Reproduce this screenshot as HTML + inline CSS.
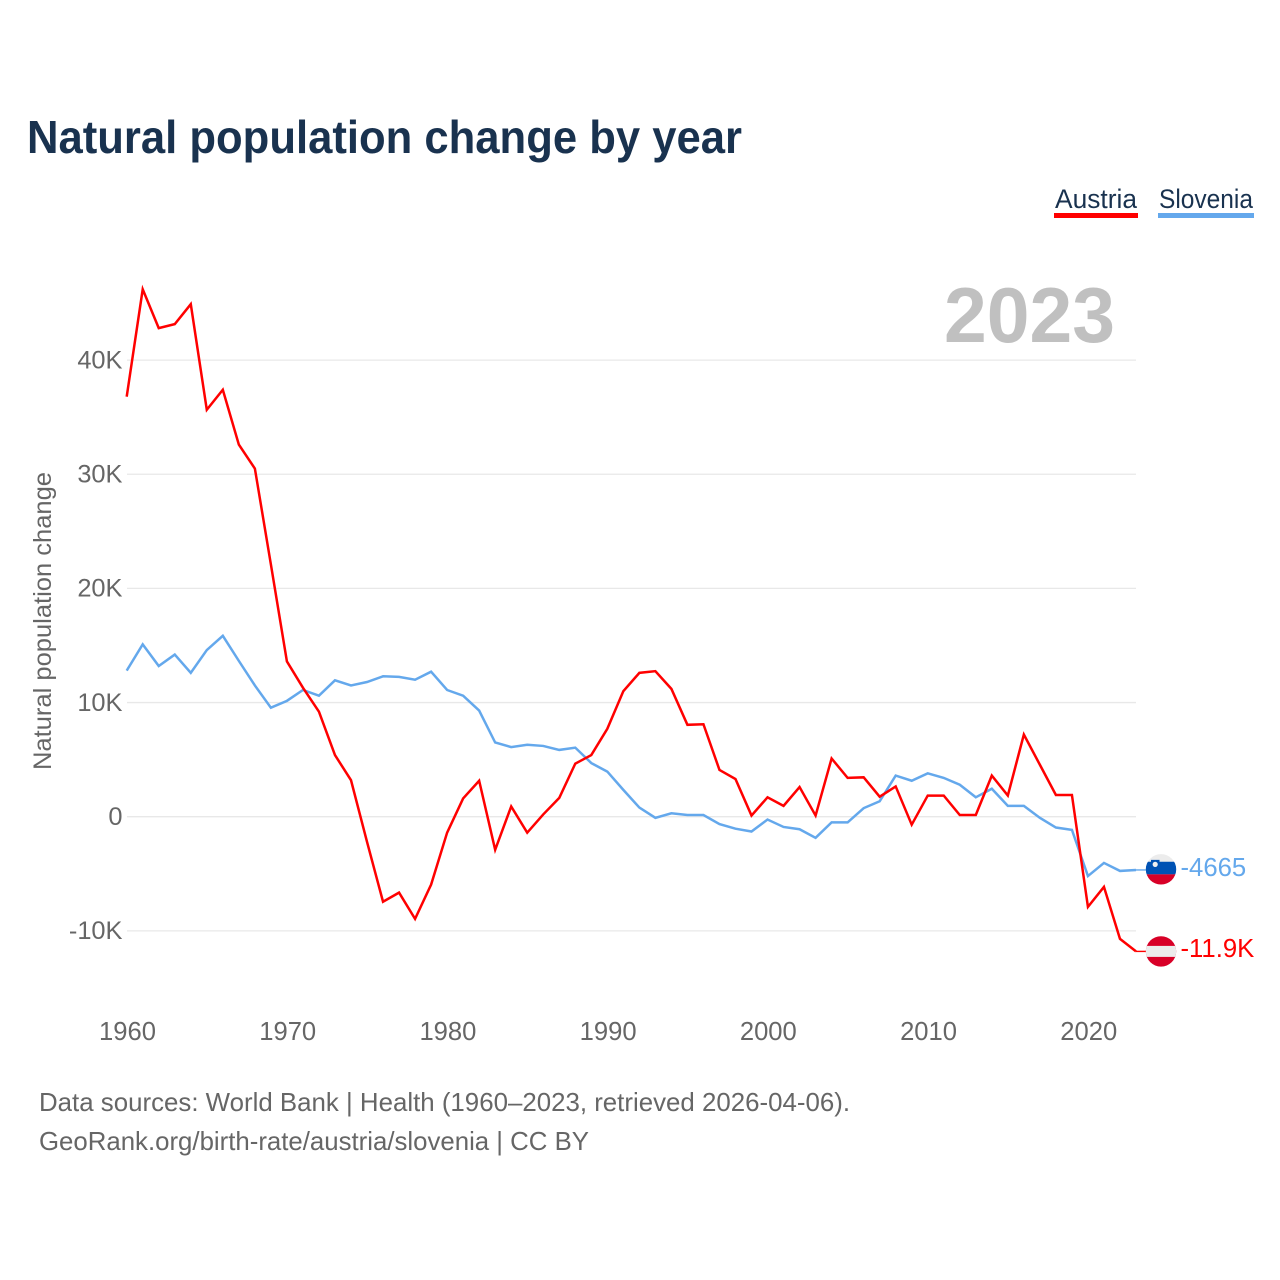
<!DOCTYPE html>
<html lang="en">
<head>
<meta charset="utf-8">
<title>Natural population change by year</title>
<style>
  html, body { margin: 0; padding: 0; background: #ffffff; }
  #chart { display: block; width: 1280px; height: 1280px; }
  text { font-family: "Liberation Sans", sans-serif; }
</style>
</head>
<body>
<svg id="chart" xmlns="http://www.w3.org/2000/svg" width="1280" height="1280" viewBox="0 0 1280 1280">
  <rect x="0" y="0" width="1280" height="1280" fill="#ffffff"/>
  <text x="27" y="153" font-size="46" font-weight="700" fill="#19324f" textLength="715" lengthAdjust="spacingAndGlyphs">Natural population change by year</text>

  <g>
    <g>
      <text x="1055" y="208" font-size="27" fill="#19324f" textLength="82" lengthAdjust="spacingAndGlyphs">Austria</text>
      <rect x="1054" y="213" width="84" height="5" fill="#ff0000"/>
    </g>
    <g>
      <text x="1159" y="208" font-size="27" fill="#19324f" textLength="94" lengthAdjust="spacingAndGlyphs">Slovenia</text>
      <rect x="1158" y="213" width="96" height="5" fill="#64a8ec"/>
    </g>
  </g>

  <text transform="translate(51,621) rotate(-90)" text-anchor="middle" font-size="25" fill="#666666" textLength="298" lengthAdjust="spacingAndGlyphs">Natural population change</text>

  <g id="grid"></g>
  <g id="y-ticks"></g>
  <g id="x-ticks"></g>

  <text x="944" y="342" font-size="78" font-weight="700" fill="#c0c0c0" textLength="171" lengthAdjust="spacingAndGlyphs">2023</text>

  <g id="series"></g>
  <g id="ends"></g>

  <text x="39" y="1111" font-size="26" fill="#666666" textLength="811" lengthAdjust="spacingAndGlyphs">Data sources: World Bank | Health (1960–2023, retrieved 2026-04-06).</text>
  <text x="39" y="1150" font-size="26" fill="#666666" textLength="550" lengthAdjust="spacingAndGlyphs">GeoRank.org/birth-rate/austria/slovenia | CC BY</text>
</svg>

<script>
const firstYear = 1960;
const yTickValues = [40000, 30000, 20000, 10000, 0, -10000];
const yTickLabels = ['40K', '30K', '20K', '10K', '0', '-10K'];
const xTickYears = [1960, 1970, 1980, 1990, 2000, 2010, 2020];
const austriaValues = [
  36800, 46200, 42800, 43150, 44900, 35650, 37400, 32600, 30500, 22100,
  13600, 11300, 9200, 5400, 3200, -2200, -7450, -6650, -8950, -5950,
  -1400, 1600, 3150, -2900, 900, -1400, 200, 1650, 4650, 5400,
  7700, 11000, 12600, 12750, 11200, 8050, 8100, 4100, 3300, 100,
  1700, 950, 2600, 100, 5100, 3400, 3450, 1750, 2650, -700,
  1850, 1850, 150, 150, 3600, 1850, 7200, 4550, 1900, 1900,
  -7900, -6150, -10700, -11800
];
const sloveniaValues = [
  12800, 15100, 13200, 14200, 12600, 14600, 15850, 13650, 11500, 9550,
  10150, 11100, 10600, 11950, 11500, 11800, 12300, 12250, 12000, 12700,
  11100, 10600, 9300, 6500, 6100, 6300, 6200, 5850, 6050, 4700,
  3950, 2350, 800, -100, 300, 150, 150, -650, -1050, -1300,
  -250, -900, -1100, -1850, -500, -500, 750, 1350, 3600, 3150,
  3800, 3400, 2800, 1700, 2450, 950, 950, -100, -950, -1150,
  -5200, -4050, -4750, -4665
];
const austriaEndLabel = '-11.9K';
const sloveniaEndLabel = '-4665';

const NS = 'http://www.w3.org/2000/svg';
const xScale = function (year) { return 126.7 + (year - firstYear) * (1009.3 / 63); };
const yScale = function (value) { return 816.7 - value * (114.15 / 10000); };
const make = function (tag, parent) {
  const el = document.createElementNS(NS, tag);
  parent.appendChild(el);
  return el;
};
const setAll = function (el, attrs) {
  Object.keys(attrs).forEach(function (k) { el.setAttribute(k, attrs[k]); });
};

const gridGroup = document.getElementById('grid');
const yTickGroup = document.getElementById('y-ticks');
const xTickGroup = document.getElementById('x-ticks');
const seriesGroup = document.getElementById('series');
const endGroup = document.getElementById('ends');

yTickValues.forEach(function (v, i) {
  const line = make('line', gridGroup);
  
  
  setAll(line, { x1: 127, x2: 1136, y1: yScale(v), y2: yScale(v), stroke: '#e8e8e8', 'stroke-width': 1.3 });
  const label = make('text', yTickGroup);
  
  
  setAll(label, { x: 122.5, y: yScale(v) + 8.3, 'text-anchor': 'end', 'font-size': 25.4, fill: '#666666' });
  label.textContent = yTickLabels[i];
});

xTickYears.forEach(function (year) {
  const label = make('text', xTickGroup);
  
  
  setAll(label, { x: xScale(year) + 0.8, y: 1040, 'text-anchor': 'middle', 'font-size': 25.6, fill: '#666666' });
  label.textContent = String(year);
});

function drawLine(values, color) {
  const points = values.map(function (v, i) {
    return xScale(firstYear + i).toFixed(2) + ',' + yScale(v).toFixed(2);
  }).join(' ');
  const line = make('polyline', seriesGroup);
  setAll(line, { points: points, fill: 'none', stroke: color, 'stroke-width': 2.5, 'stroke-linejoin': 'miter' });
  return line;
}

const sloveniaLine = drawLine(sloveniaValues, '#64a8ec');


const austriaLine = drawLine(austriaValues, '#ff0000');



function drawEnd(group, values, color, text) {
  const lastX = xScale(firstYear + values.length - 1);
  const lastY = yScale(values[values.length - 1]);
  const connector = make('line', group);
  
  
  setAll(connector, { x1: lastX, x2: 1147, y1: lastY, y2: lastY, stroke: color, 'stroke-width': 1.4 });
  const label = make('text', group);
  
  
  setAll(label, { x: 1180.5, y: lastY + 5.8, 'font-size': 25.7, fill: color });
  label.textContent = text;
  return lastY;
}

function flagBase(group, id, cy) {
  const clip = make('clipPath', group);
  clip.setAttribute('id', id);
  const c = make('circle', clip);
  setAll(c, { cx: 1161, cy: cy, r: 15.2 });
  const flag = make('g', group);
  flag.setAttribute('clip-path', 'url(#' + id + ')');
  return flag;
}

function band(flag, top, height, color) {
  const r = make('rect', flag);
  setAll(r, { x: 1145, y: top, width: 32, height: height, fill: color });
  return r;
}

const sloveniaEnd = make('g', endGroup);


const sloY = drawEnd(sloveniaEnd, sloveniaValues, '#64a8ec', sloveniaEndLabel) - 0.6;
const sloFlag = flagBase(sloveniaEnd, 'clip-slovenia', sloY);


band(sloFlag, sloY - 16, 32, '#ececec');
band(sloFlag, sloY - 7.6, 12.6, '#0052b4');
band(sloFlag, sloY + 5, 11, '#d80027');
const shield = make('path', sloFlag);
shield.setAttribute('d', 'M1151 ' + (sloY - 9.5) + 'h8.5v5.5a4.25 4.25 0 0 1-8.5 0z');
shield.setAttribute('fill', '#0052b4');
const shieldDot = make('circle', sloFlag);
setAll(shieldDot, { cx: 1155.2, cy: sloY - 5, r: 2.6, fill: '#f0f0f0' });

const austriaEnd = make('g', endGroup);


const ausY = drawEnd(austriaEnd, austriaValues, '#ff0000', austriaEndLabel);
const ausFlag = flagBase(austriaEnd, 'clip-austria', ausY);


band(ausFlag, ausY - 16, 32, '#d80027');
band(ausFlag, ausY - 5.5, 11, '#ececec');
</script>
</body>
</html>
